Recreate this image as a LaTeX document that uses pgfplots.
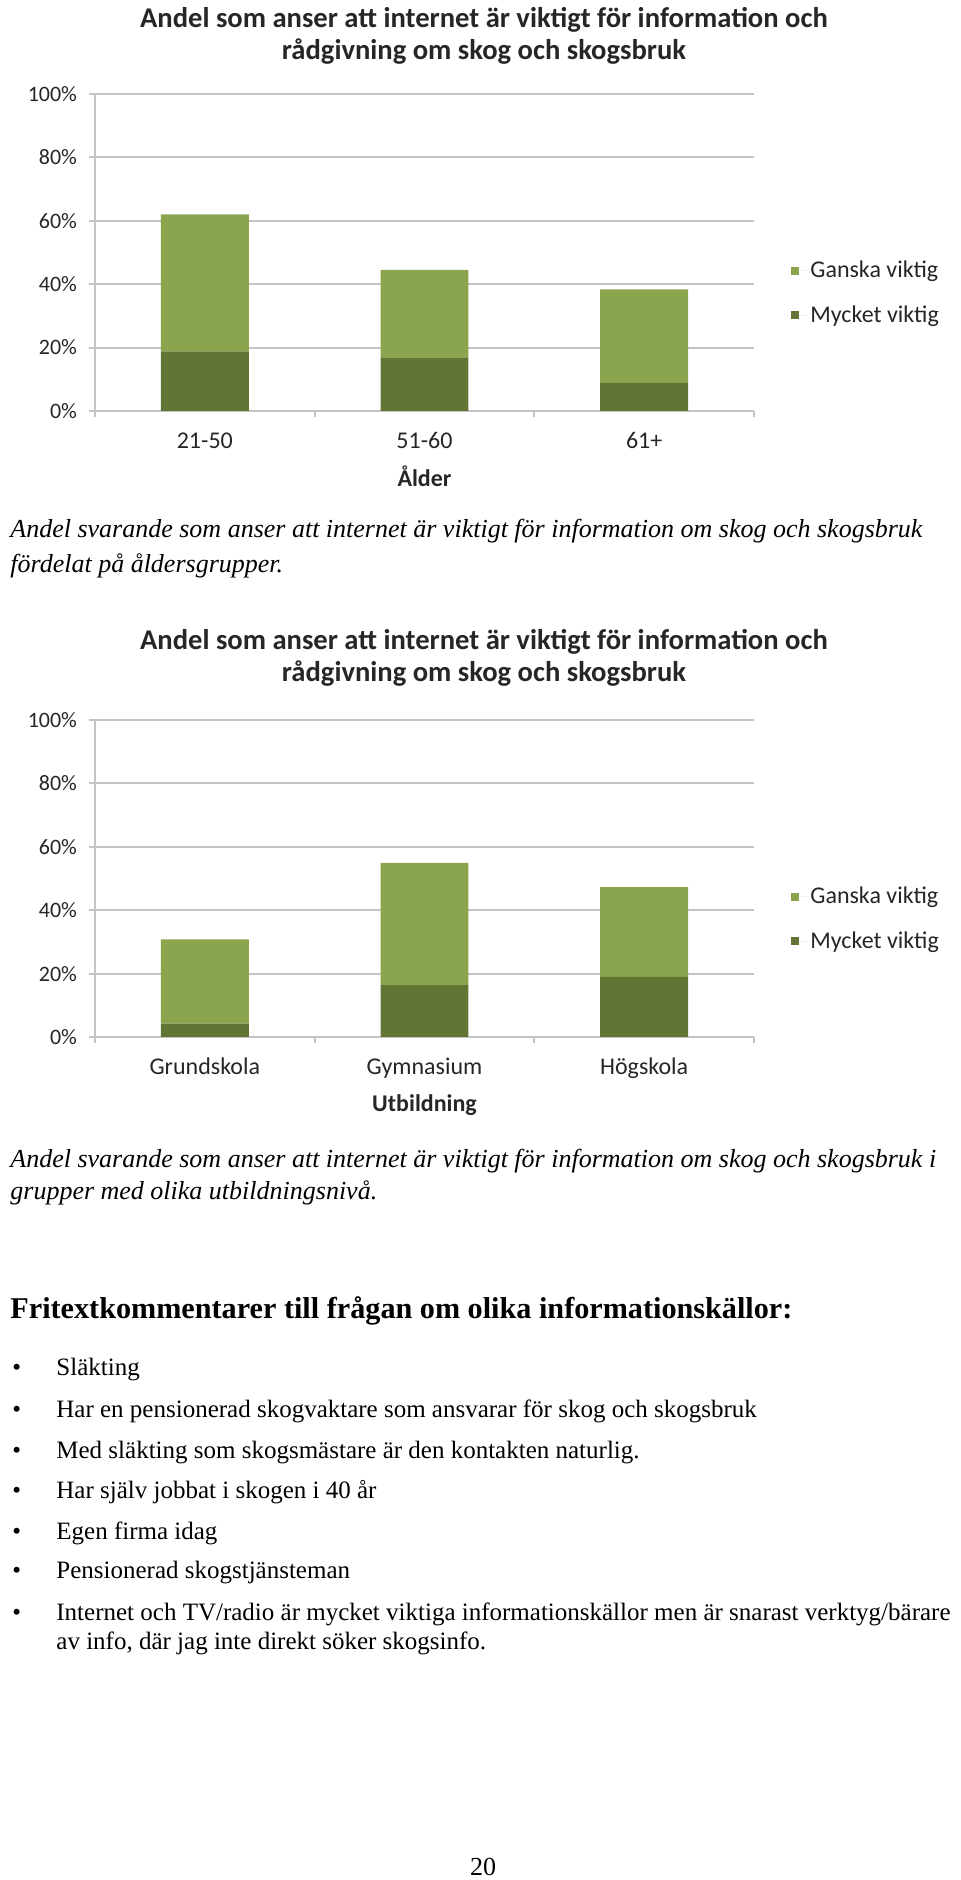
\documentclass[border=0pt]{standalone}
\usepackage{pgfplots}
\pgfplotsset{compat=1.18}
\usepackage{fontspec}
\setmainfont{Liberation Serif}
\newfontfamily\calfont{Carlito}
\definecolor{ganska}{HTML}{8BA44E}
\definecolor{mycket}{HTML}{627534}
\definecolor{gridgray}{HTML}{C4C4C4}
\definecolor{txt}{HTML}{262626}

\pgfplotsset{mychart/.style={
  width=329.5pt, height=158.5pt, scale only axis,
  xmin=-0.5, xmax=2.5, ymin=0, ymax=100,
  ybar stacked, bar width=0.4,
  axis x line*=bottom, axis y line*=left,
  axis line style={gridgray, line width=1pt, -},
  ymajorgrids, grid style={gridgray, line width=1pt},
  ytick={0,20,...,100},
  yticklabel={\pgfmathprintnumber{\tick}\%},
  xtick={-0.5,0.5,1.5,2.5},
  x tick label as interval,
  tick align=outside,
  major tick length=3pt,
  tick style={gridgray, line width=1pt},
  /pgf/number format/assume math mode=true,
  y tick label style={font=\calfont\fontsize{11}{12}\selectfont, text=txt, xshift=-2.5pt},
  x tick label style={font=\calfont\fontsize{12}{14}\selectfont, text=txt, anchor=base, yshift=-16pt},
  xlabel style={font=\calfont\bfseries\fontsize{12}{14}\selectfont, text=txt, at={(axis description cs:0.5,0)}, anchor=center, yshift=-32.5pt},
  legend style={draw=none, fill=none, at={(1.047,0.372)}, anchor=west, font=\calfont\fontsize{12}{14}\selectfont, text=txt, row sep=8.5pt},
  legend cell align=left,
  reverse legend,
  legend image code/.code={\fill[##1, draw=none] (0pt,-2pt) rectangle (4pt,2pt); \path (0pt,0pt) -- (7.5pt,0pt);},
}}

\begin{document}
\begin{tikzpicture}
\path[use as bounding box] (0pt,0pt) rectangle (480pt,940pt);

% ---------- Chart 1 ----------
\begin{axis}[mychart, at={(47.5pt,734.5pt)}, anchor=south west,
  xticklabels={21-50,51-60,61+}, xlabel={Ålder}]
\addplot[fill=mycket, draw=none] coordinates {(0,18.8) (1,16.7) (2,8.8)};
\addlegendentry{Mycket viktig}
\addplot[fill=ganska, draw=none] coordinates {(0,43.2) (1,27.8) (2,29.6)};
\addlegendentry{Ganska viktig}
\end{axis}

% ---------- Chart 2 ----------
\begin{axis}[mychart, at={(47.5pt,421.5pt)}, anchor=south west,
  xticklabels={Grundskola,Gymnasium,Högskola}, xlabel={Utbildning}, xlabel style={yshift=-1.5pt}]
\addplot[fill=mycket, draw=none] coordinates {(0,4.2) (1,16.4) (2,19.0)};
\addlegendentry{Mycket viktig}
\addplot[fill=ganska, draw=none] coordinates {(0,26.6) (1,38.5) (2,28.3)};
\addlegendentry{Ganska viktig}
\end{axis}

\begin{scope}[shift={(0pt,940pt)}, x=0.5pt, y=-0.5pt, every node/.style={inner sep=0pt}]
\node[font=\calfont\bfseries\fontsize{14.3}{16}\selectfont, align=center, text=txt] at (484,36)
  {Andel som anser att internet är viktigt för information och\\rådgivning om skog och skogsbruk};
\node[anchor=mid west, font=\itshape\fontsize{13}{16}\selectfont] at (10,533)
  {Andel svarande som anser att internet är viktigt för information om skog och skogsbruk};
\node[anchor=mid west, font=\itshape\fontsize{13}{16}\selectfont] at (10,568)
  {fördelat på åldersgrupper.};

\node[font=\calfont\bfseries\fontsize{14.3}{16}\selectfont, align=center, text=txt] at (484,658)
  {Andel som anser att internet är viktigt för information och\\rådgivning om skog och skogsbruk};
\node[anchor=mid west, font=\itshape\fontsize{13}{16}\selectfont] at (10,1163)
  {Andel svarande som anser att internet är viktigt för information om skog och skogsbruk i};
\node[anchor=mid west, font=\itshape\fontsize{13}{16}\selectfont] at (10,1195)
  {grupper med olika utbildningsnivå.};

\node[anchor=mid west, font=\bfseries\fontsize{15.1}{17}\selectfont] at (10,1314)
  {Fritextkommentarer till frågan om olika informationskällor:};
\foreach \yy/\itm in {1371/{Släkting},
  1413/{Har en pensionerad skogvaktare som ansvarar för skog och skogsbruk},
  1454/{Med släkting som skogsmästare är den kontakten naturlig.},
  1494/{Har själv jobbat i skogen i 40 år},
  1535/{Egen firma idag},
  1574/{Pensionerad skogstjänsteman},
  1616/{Internet och TV/radio är mycket viktiga informationskällor men är snarast verktyg/bärare}}
{
  \node[anchor=mid west, font=\fontsize{12.5}{15}\selectfont] at (12,\yy) {•};
  \node[anchor=mid west, font=\fontsize{12.5}{15}\selectfont] at (56,\yy) {\itm};
}
\node[anchor=mid west, font=\fontsize{12.5}{15}\selectfont] at (56,1645)
  {av info, där jag inte direkt söker skogsinfo.};

\node[anchor=mid, font=\fontsize{13}{15}\selectfont] at (483,1871) {20};
\end{scope}
\end{tikzpicture}
\end{document}
